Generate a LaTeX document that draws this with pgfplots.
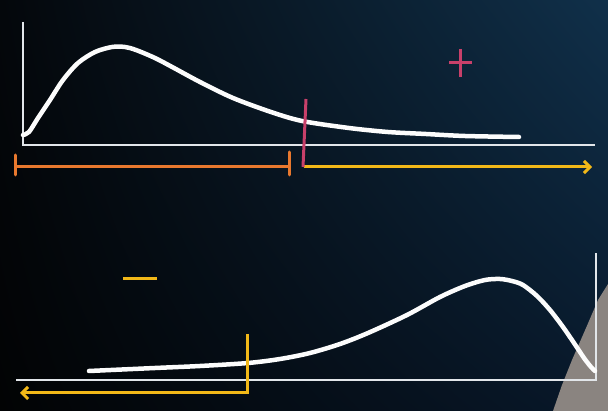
\documentclass[border=0pt]{standalone}
\usepackage{pgfplots}
\pgfplotsset{compat=1.18}
\usetikzlibrary{arrows.meta,shadings}

\definecolor{chalk}{HTML}{FCFCFC}
\definecolor{axisgray}{HTML}{E2E6EA}
\definecolor{bracketorange}{HTML}{E8782E}
\definecolor{tickred}{HTML}{C8406A}
\definecolor{arrowgold}{HTML}{F2B818}
\definecolor{armgray}{HTML}{8A8480}
\definecolor{bgUR}{HTML}{10304A}
\definecolor{bgLR}{HTML}{08182A}
\definecolor{bgUL}{HTML}{04070B}
\definecolor{bgLL}{HTML}{020304}

\begin{document}
\begin{tikzpicture}
\begin{axis}[
    scale only axis,
    width=608pt, height=411pt,
    xmin=0, xmax=608,
    ymin=0, ymax=411,
    y dir=reverse,
    hide axis,
    clip=false,
]
% board
\shade[upper left=bgUL, upper right=bgUR, lower left=bgLL, lower right=bgLR]
    (axis cs:0,411) rectangle (axis cs:608,0);

% sleeve in the corner
\addplot[fill=armgray, draw=none] coordinates {
    (608,284) (598,300) (586,328) (572,360) (562,385) (553,411) (608,411) (608,284)
};

% --- top panel: right-skewed curve ---
\addplot[axisgray, line width=2.2pt] coordinates {(23,22) (23,145) (595,145)};
\addplot[chalk, line width=4.5pt, smooth, tension=0.5, line cap=round] coordinates {
    (23,135) (29,132) (38,118) (50,100) (63,80) (78,63) (95,52) (112,47)
    (125,47) (136,50) (155,58) (174,68) (200,82) (233,98) (271,112)
    (302,121) (349,128) (388,132) (426,134) (465,136) (519,137)
};
% orange bracket
\addplot[bracketorange, line width=3pt] coordinates {(15,167) (289,167)};
\addplot[bracketorange, line width=3pt, line cap=round] coordinates {(15,155) (15,175)};
\addplot[bracketorange, line width=3pt, line cap=round] coordinates {(289,152) (289,175)};
% red cut and yellow arrow
\addplot[arrowgold, line width=3pt, -{Straight Barb[length=6pt, width=12pt]}] coordinates {(304,167) (592,167)};
\addplot[tickred, line width=3pt] coordinates {(306,99) (303,167)};
% plus sign
\addplot[tickred, line width=3pt] coordinates {(449,63) (472,63)};
\addplot[tickred, line width=3pt] coordinates {(460,49) (460,77)};

% --- bottom panel: left-skewed curve ---
\addplot[axisgray, line width=2.2pt] coordinates {(16,380) (596,380) (596,253)};
\addplot[chalk, line width=4.5pt, smooth, tension=0.5, line cap=round] coordinates {
    (89,371) (155,368) (200,366) (248,363) (280,359) (310,353) (340,344)
    (368,333) (407,315) (440,297) (465,286) (485,280) (500,279) (512,281)
    (523,285) (537,296) (550,310) (563,327) (574,343) (584,358) (591,367) (595,371)
};
% yellow cut and left arrow
\addplot[arrowgold, line width=3pt, -{Straight Barb[length=6pt, width=12pt]}] coordinates {(247,334) (247,393) (20,393)};
% minus sign
\addplot[arrowgold, line width=3pt] coordinates {(123,279) (157,279)};
\end{axis}
\end{tikzpicture}
\end{document}
